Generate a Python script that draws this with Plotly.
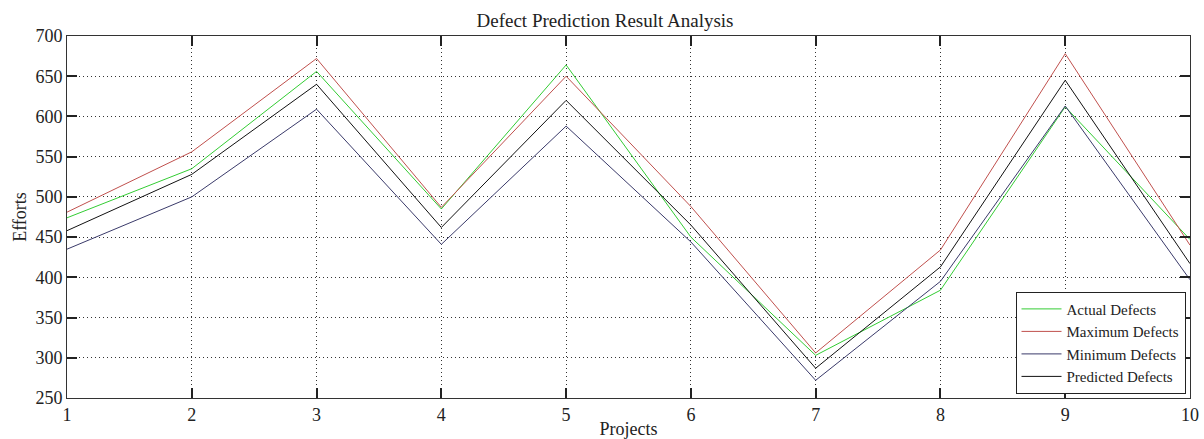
import plotly.graph_objects as go

projects = [1, 2, 3, 4, 5, 6, 7, 8, 9, 10]
actual = [474, 535, 656, 485, 664, 450, 303, 384, 612, 447]
maximum = [481, 556, 672, 487, 650, 488, 306, 434, 678, 440]
minimum = [435, 500, 609, 441, 588, 444, 272, 395, 613, 397]
predicted = [458, 528, 640, 462, 620, 465, 287, 413, 645, 417]

series = [
    ("Actual Defects", actual, "#33cc33"),
    ("Maximum Defects", maximum, "#c0504d"),
    ("Minimum Defects", minimum, "#3a3a6a"),
    ("Predicted Defects", predicted, "#111111"),
]

fig = go.Figure()
for name, vals, col in series:
    fig.add_trace(go.Scatter(x=projects, y=vals, mode="lines", name=name,
                             line=dict(color=col, width=1)))

font = "Liberation Serif, Times New Roman, serif"
axis_common = dict(
    showline=True, linecolor="#333", linewidth=1, mirror="ticks",
    ticks="inside", ticklen=10, tickcolor="#222", tickwidth=1.5,
    showgrid=True, gridcolor="#333", griddash="1px,3px", gridwidth=1,
    zeroline=False, automargin=False,
    tickfont=dict(family=font, size=18, color="#222"),
)
W, H = 1204, 439
fig.update_layout(
    width=W, height=H,
    margin=dict(l=67, r=14, t=36, b=41),
    paper_bgcolor="white", plot_bgcolor="white",
    title=dict(text="Defect Prediction Result Analysis", x=605/W, xanchor="center",
               y=1-20/H, yanchor="middle",
               font=dict(family=font, size=19, color="#222")),
    xaxis=dict(range=[1, 10], tickmode="array", tickvals=projects,
               title=dict(text="Projects", font=dict(family=font, size=18, color="#222"), standoff=0),
               **axis_common),
    yaxis=dict(range=[250, 700], dtick=50,
               title=dict(text="Efforts", font=dict(family=font, size=18, color="#222"), standoff=4),
               **axis_common),
    legend=dict(x=0.996, y=0.012, xanchor="right", yanchor="bottom",
                bgcolor="white", bordercolor="#222", borderwidth=1,
                font=dict(family=font, size=15, color="#222"),
                tracegroupgap=0, itemwidth=40),
    showlegend=True,
)
fig.write_html("out.html", config={"displayModeBar": False},
               post_script="document.body.style.margin='0';document.body.style.overflow='hidden';")
